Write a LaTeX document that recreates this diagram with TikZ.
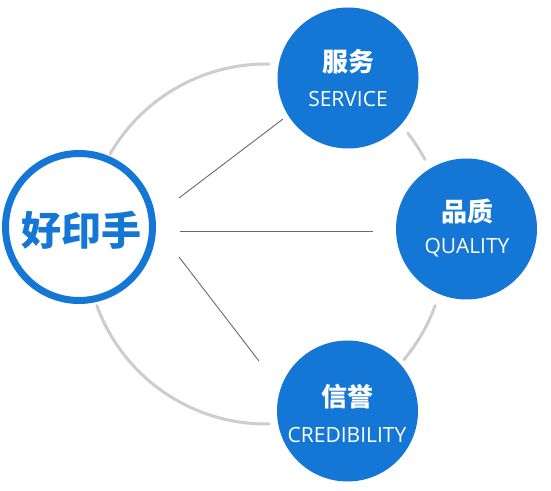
\documentclass[tikz,border=0pt]{standalone}
\usepackage{fontspec}
\newfontfamily\cjk{Noto Sans CJK SC}
\newfontfamily\latn{Open Sans}
\definecolor{mainblue}{RGB}{20,118,213}
\definecolor{arcgray}{RGB}{205,205,205}
\definecolor{linegray}{RGB}{105,105,105}
\tikzset{
  sat/.style={circle,fill=mainblue,draw=none,minimum size=141pt,inner sep=0pt},
  hub/.style={circle,draw=mainblue,line width=7pt,fill=white,minimum size=147pt,inner sep=0pt},
  zh/.style={text=white,font=\cjk\bfseries\fontsize{26}{28}\selectfont,inner sep=0pt},
  en/.style={text=white,font=\latn\fontsize{21}{23}\selectfont,inner sep=0pt},
  ring/.style={draw=arcgray,line width=3pt,line cap=round},
  spoke/.style={draw=linegray,line width=0.9pt}
}
\begin{document}
\begin{tikzpicture}[x=1pt,y=1pt]
\useasboundingbox (0,0) rectangle (551,490);
\coordinate (O) at (266,246);
% gray ring arcs
\draw[ring] (O) ++(89:180pt) arc[start angle=89,end angle=150,radius=180pt];
\draw[ring] (O) ++(28:180pt) arc[start angle=28,end angle=38,radius=180pt];
\draw[ring] (O) ++(-40:180pt) arc[start angle=-40,end angle=-20,radius=180pt];
\draw[ring] (O) ++(200:180pt) arc[start angle=200,end angle=271,radius=180pt];
% circles
\node[hub] (hub) at (79,263) {};
\node[sat] (srv) at (348,412) {};
\node[sat] (qua) at (466.5,261) {};
\node[sat] (cre) at (347.5,79) {};
% spokes
\coordinate (a1) at (179,292);
\coordinate (b1) at (283,371);
\coordinate (a2) at (180,259);
\coordinate (b2) at (373,259);
\coordinate (a3) at (179,233);
\coordinate (b3) at (259,129);
\draw[spoke] (a1) -- (b1);
\draw[spoke] (a2) -- (b2);
\draw[spoke] (a3) -- (b3);
% texts
\node[text=mainblue,font=\cjk\bfseries\fontsize{40}{42}\selectfont,inner sep=0pt] (hubt) at (81,260) {好印手};
\node[zh] (srvz) at (348,428) {服务};
\node[en] (srve) at (348,391) {SERVICE};
\node[zh] (quaz) at (467,278) {品质};
\node[en] (quae) at (467,242) {QUALITY};
\node[zh] (crez) at (347,93) {信誉};
\node[en] (cree) at (347,55) {CREDIBILITY};
\end{tikzpicture}
\end{document}
